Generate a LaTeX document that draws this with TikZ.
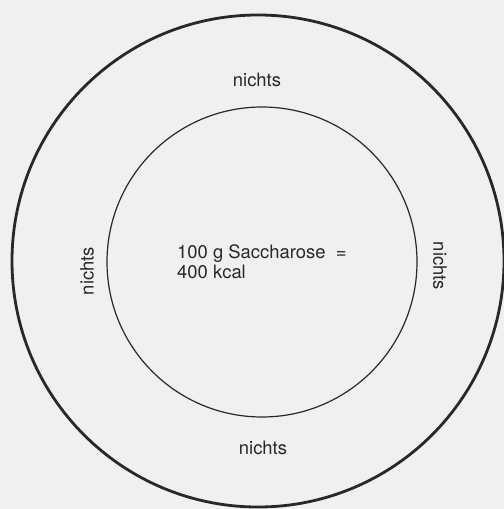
\documentclass[tikz,border=0pt]{standalone}
\usepackage{fontspec}
\setmainfont{TeX Gyre Heros}
\definecolor{paper}{RGB}{240,240,240}
\definecolor{ink}{RGB}{40,40,40}

\begin{document}
\begin{tikzpicture}[x=1bp,y=-1bp,
    label/.style={inner sep=0pt,text=ink,font=\fontsize{18.5}{20}\selectfont}]
  % Paper
  \fill[paper] (0,0) rectangle (504,509);
  \useasboundingbox (0,0) rectangle (504,509);

  % Rings
  \coordinate (outerc) at (258,261);
  \coordinate (innerc) at (262,262);
  \draw[ink,line width=2.8bp] (outerc) circle (246);
  \draw[ink,line width=1.2bp] (innerc) circle (155);

  % Labels
  \node[label] (top) at (257,80) {nichts};
  \node[label] (bottom) at (263,448) {nichts};
  \node[label,rotate=90] (left) at (87,271) {nichts};
  \node[label,rotate=-90] (right) at (440,266) {nichts};
  \node[label,anchor=west,align=left] (sugar) at (177,262)
    {100 g Saccharose\ \ =\\400 kcal};
\end{tikzpicture}
\end{document}
